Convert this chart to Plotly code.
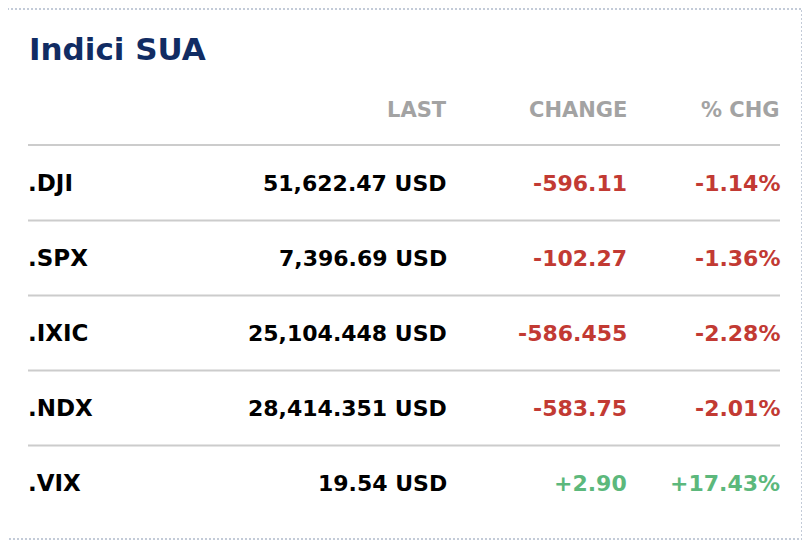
import plotly.graph_objects as go

# table data
symbols = [".DJI", ".SPX", ".IXIC", ".NDX", ".VIX"]
last_values = ["51,622.47 USD", "7,396.69 USD", "25,104.448 USD", "28,414.351 USD", "19.54 USD"]
changes = ["-596.11", "-102.27", "-586.455", "-583.75", "+2.90"]
pct_changes = ["-1.14%", "-1.36%", "-2.28%", "-2.01%", "+17.43%"]
headers = ["LAST", "CHANGE", "% CHG"]
title_text = "Indici SUA"

RED = "#c23a33"
GREEN = "#5cb87c"
FONT = "DejaVu Sans"

# screen layout in px (page body adds an 8px offset, so axes start at 8)
OFF = 8
W, H = 810, 554
col_x = [28, 449, 629, 782]   # left edge of col 1, right edges of the others (+2 for text padding)
line_x = [28, 780]
row_h = 75
row0_px = 183

def px_to_row(p):
    return (p - row0_px) / row_h

fig = go.Figure()

annotations = []
shapes = []

# title
annotations.append(dict(x=col_x[0] - 1, y=px_to_row(49), text="<b>" + title_text + "</b>",
                        xanchor="left", yanchor="middle", showarrow=False,
                        font=dict(family=FONT, size=31, color="#112c63")))

# header row
for h, x in zip(headers, col_x[1:]):
    annotations.append(dict(x=x, y=px_to_row(110), text="<b>" + h + "</b>", xanchor="right",
                            yanchor="middle", showarrow=False,
                            font=dict(family=FONT, size=21, color="#a3a3a3")))

# header line
shapes.append(dict(type="line", x0=line_x[0], x1=line_x[1], y0=px_to_row(145),
                   y1=px_to_row(145), line=dict(color="#cccccc", width=2)))

for i, (sym, lv, ch, pc) in enumerate(zip(symbols, last_values, changes, pct_changes)):
    color = GREEN if ch.startswith("+") else RED
    annotations.append(dict(x=col_x[0] - 2, y=i, text="<b>" + sym + "</b>", xanchor="left",
                            yanchor="middle", showarrow=False,
                            font=dict(family=FONT, size=23, color="#000000")))
    annotations.append(dict(x=col_x[1], y=i, text="<b>" + lv + "</b>", xanchor="right",
                            yanchor="middle", showarrow=False,
                            font=dict(family=FONT, size=22, color="#000000")))
    annotations.append(dict(x=col_x[2], y=i, text="<b>" + ch + "</b>", xanchor="right",
                            yanchor="middle", showarrow=False,
                            font=dict(family=FONT, size=22, color=color)))
    annotations.append(dict(x=col_x[3], y=i, text="<b>" + pc + "</b>", xanchor="right",
                            yanchor="middle", showarrow=False,
                            font=dict(family=FONT, size=22, color=color)))
    if i < len(symbols) - 1:
        shapes.append(dict(type="line", x0=line_x[0], x1=line_x[1], y0=i + 0.5, y1=i + 0.5,
                           line=dict(color="#cccccc", width=2)))

# dotted outer border
shapes.append(dict(type="rect", x0=7, x1=802, y0=px_to_row(9), y1=px_to_row(539),
                   line=dict(color="#c3cbd8", width=2, dash="2px,2px")))

fig.update_layout(
    width=W - OFF, height=H - OFF,
    margin=dict(l=0, r=0, t=0, b=0),
    paper_bgcolor="white",
    plot_bgcolor="white",
    showlegend=False,
    xaxis=dict(range=[OFF, W], visible=False, fixedrange=True),
    yaxis=dict(range=[px_to_row(H), px_to_row(OFF)], visible=False, fixedrange=True),
    annotations=annotations,
    shapes=shapes,
)

fig.write_html("out.html", config={"displayModeBar": False})
